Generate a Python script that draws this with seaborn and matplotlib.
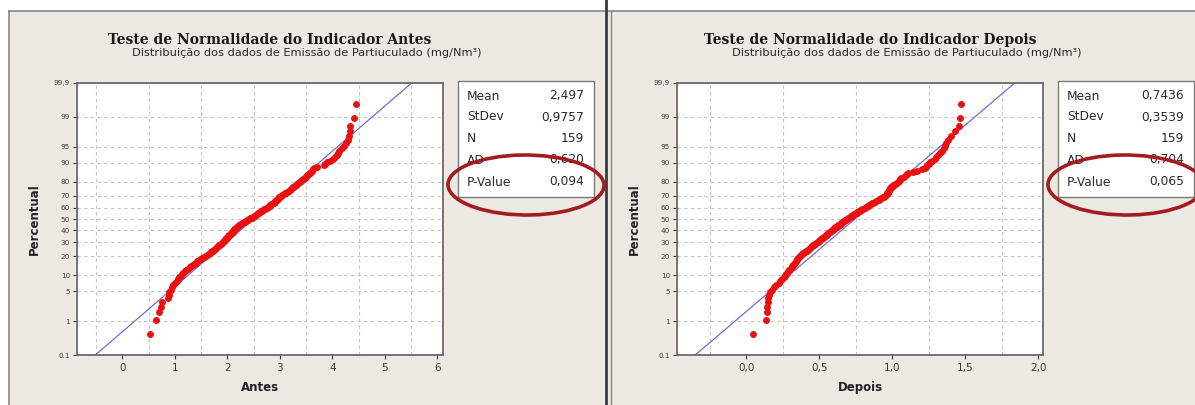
import math
import numpy as np
import pandas as pd
import matplotlib
matplotlib.use("Agg")
import matplotlib.pyplot as plt
from matplotlib.patches import Rectangle, Ellipse
from matplotlib.lines import Line2D
import seaborn as sns

antes = [0.52, 0.64, 0.70, 0.74, 0.76, 0.86, 0.88, 0.89, 0.92, 0.95,
         0.97, 1.00, 1.03, 1.05, 1.08, 1.11, 1.14, 1.16, 1.19, 1.21,
         1.24, 1.28, 1.31, 1.34, 1.37, 1.40, 1.43, 1.46, 1.49, 1.52,
         1.56, 1.60, 1.62, 1.64, 1.66, 1.68, 1.70, 1.72, 1.74, 1.76,
         1.78, 1.80, 1.82, 1.84, 1.86, 1.88, 1.90, 1.92, 1.93, 1.94,
         1.96, 1.97, 1.98, 1.99, 2.01, 2.02, 2.03, 2.04, 2.06, 2.07,
         2.08, 2.10, 2.11, 2.12, 2.13, 2.15, 2.16, 2.18, 2.19, 2.21,
         2.22, 2.24, 2.26, 2.28, 2.31, 2.33, 2.35, 2.37, 2.40, 2.42,
         2.44, 2.46, 2.48, 2.50, 2.52, 2.54, 2.56, 2.58, 2.60, 2.62,
         2.64, 2.66, 2.68, 2.70, 2.72, 2.75, 2.77, 2.79, 2.81, 2.82,
         2.84, 2.86, 2.88, 2.90, 2.91, 2.93, 2.94, 2.96, 2.97, 2.99,
         3.00, 3.02, 3.04, 3.07, 3.09, 3.12, 3.14, 3.17, 3.19, 3.22,
         3.23, 3.25, 3.26, 3.28, 3.30, 3.33, 3.35, 3.38, 3.40, 3.43,
         3.45, 3.48, 3.50, 3.52, 3.55, 3.57, 3.59, 3.62, 3.64, 3.66,
         3.70, 3.84, 3.87, 3.90, 3.95, 4.01, 4.05, 4.08, 4.10, 4.13,
         4.18, 4.22, 4.26, 4.30, 4.32, 4.33, 4.34, 4.41, 4.45]

depois = [0.045, 0.135, 0.138, 0.140, 0.145, 0.150, 0.158, 0.165, 0.175, 0.190,
          0.205, 0.220, 0.232, 0.245, 0.255, 0.265, 0.272, 0.280, 0.288, 0.295,
          0.300, 0.310, 0.315, 0.320, 0.328, 0.335, 0.340, 0.345, 0.350, 0.355,
          0.362, 0.370, 0.375, 0.380, 0.390, 0.400, 0.410, 0.418, 0.422, 0.430,
          0.435, 0.440, 0.448, 0.455, 0.462, 0.470, 0.478, 0.490, 0.495, 0.500,
          0.505, 0.510, 0.520, 0.525, 0.530, 0.540, 0.545, 0.550, 0.555, 0.560,
          0.570, 0.575, 0.580, 0.590, 0.595, 0.600, 0.605, 0.610, 0.620, 0.625,
          0.630, 0.640, 0.645, 0.650, 0.655, 0.660, 0.670, 0.675, 0.680, 0.690,
          0.695, 0.700, 0.710, 0.715, 0.720, 0.730, 0.740, 0.750, 0.755, 0.760,
          0.770, 0.780, 0.785, 0.790, 0.800, 0.810, 0.820, 0.830, 0.835, 0.840,
          0.850, 0.860, 0.870, 0.880, 0.890, 0.900, 0.910, 0.915, 0.925, 0.935,
          0.940, 0.950, 0.955, 0.960, 0.965, 0.970, 0.972, 0.975, 0.978, 0.980,
          0.985, 0.990, 0.995, 1.000, 1.010, 1.020, 1.030, 1.040, 1.045, 1.050,
          1.055, 1.060, 1.080, 1.090, 1.100, 1.110, 1.140, 1.170, 1.200, 1.220,
          1.230, 1.240, 1.250, 1.260, 1.270, 1.290, 1.300, 1.310, 1.325, 1.340,
          1.350, 1.360, 1.370, 1.380, 1.400, 1.430, 1.455, 1.460, 1.470]

antes_mean = 2.497
antes_sd = 0.9757
depois_mean = 0.7436
depois_sd = 0.3539

stat_names = ["Mean", "StDev", "N", "AD", "P-Value"]
antes_stats = ["2,497", "0,9757", "159", "0,620", "0,094"]
depois_stats = ["0,7436", "0,3539", "159", "0,704", "0,065"]

pct_ticks = [0.1, 1, 5, 10, 20, 30, 40, 50, 60, 70, 80, 90, 95, 99, 99.9]
pct_labels = ["0.1", "1", "5", "10", "20", "30", "40", "50", "60", "70",
              "80", "90", "95", "99", "99,9"]
antes_xticks = [0, 1, 2, 3, 4, 5, 6]
antes_xlabels = ["0", "1", "2", "3", "4", "5", "6"]
depois_xticks = [0.0, 0.5, 1.0, 1.5, 2.0]
depois_xlabels = ["0,0", "0,5", "1,0", "1,5", "2,0"]

titles = ["Teste de Normalidade do Indicador Antes",
          "Teste de Normalidade do Indicador Depois"]
subtitle = "Distribuição dos dados de Emissão de Partiuculado (mg/Nm³)"
xlabels = ["Antes", "Depois"]


# ---------------- normal probability scale ----------------
def norm_ppf(p):
    p = np.clip(np.asarray(p, dtype=float), 1e-9, 1 - 1e-9)
    a = [-3.969683028665376e+01, 2.209460984245205e+02, -2.759285104469687e+02,
         1.383577518672690e+02, -3.066479806614716e+01, 2.506628277459239e+00]
    b = [-5.447609879822406e+01, 1.615858368580409e+02, -1.556989798598866e+02,
         6.680131188771720e+01, -1.328068155288572e+01]
    c = [-7.784894002430293e-03, -3.223964580411365e-01, -2.400758277161838e+00,
         -2.549732539343734e+00, 4.374664141464968e+00, 2.938163982698783e+00]
    d = [7.784695709041462e-03, 3.224671290700398e-01, 2.445134137142996e+00,
         3.754408661907416e+00]
    plow = 0.02425
    ql = np.sqrt(-2 * np.log(p))
    xl = (((((c[0]*ql+c[1])*ql+c[2])*ql+c[3])*ql+c[4])*ql+c[5]) / \
         ((((d[0]*ql+d[1])*ql+d[2])*ql+d[3])*ql+1)
    qu = np.sqrt(-2 * np.log(1 - p))
    xu = -(((((c[0]*qu+c[1])*qu+c[2])*qu+c[3])*qu+c[4])*qu+c[5]) / \
         ((((d[0]*qu+d[1])*qu+d[2])*qu+d[3])*qu+1)
    q = p - 0.5
    r = q * q
    xc = (((((a[0]*r+a[1])*r+a[2])*r+a[3])*r+a[4])*r+a[5])*q / \
         (((((b[0]*r+b[1])*r+b[2])*r+b[3])*r+b[4])*r+1)
    return np.where(p < plow, xl, np.where(p > 1 - plow, xu, xc))


_erf = np.vectorize(math.erf)


def pct_forward(y):
    return norm_ppf(np.asarray(y, dtype=float) / 100.0)


def pct_inverse(z):
    z = np.asarray(z, dtype=float)
    return 50.0 * (1.0 + _erf(z / math.sqrt(2.0)))


# ---------------- figure ----------------
W, H = 1195, 405
fig = plt.figure(figsize=(W / 100, H / 100), dpi=100, facecolor="white")


def fx(px):
    return px / W


def fy(py):
    return 1 - py / H


bg = "#ECE9E2"
frame = "#8a8a8a"
fig.add_artist(Rectangle((fx(9), fy(410)), fx(606 - 9), (410 - 11) / H,
                         transform=fig.transFigure, facecolor=bg,
                         edgecolor="none", zorder=-10))
fig.add_artist(Rectangle((fx(606), fy(410)), fx(1200 - 606), (410 - 11) / H,
                         transform=fig.transFigure, facecolor=bg,
                         edgecolor="none", zorder=-10))
fig.add_artist(Line2D([fx(9), fx(1195)], [fy(11), fy(11)], transform=fig.transFigure,
                      color=frame, lw=1.2, zorder=-5))
fig.add_artist(Line2D([fx(9), fx(9)], [fy(11), fy(405)], transform=fig.transFigure,
                      color=frame, lw=1.2, zorder=-5))
fig.add_artist(Line2D([fx(611), fx(611)], [fy(11), fy(405)], transform=fig.transFigure,
                      color=frame, lw=1.0, zorder=-5))
fig.add_artist(Line2D([fx(606), fx(606)], [0, 1], transform=fig.transFigure,
                      color="#3a3a3a", lw=2.0, zorder=-4))

panels = [
    dict(data=antes, mean=antes_mean, sd=antes_sd, stats=antes_stats,
         xticks=antes_xticks, xlabels=antes_xlabels, xstep=0.5,
         xlim=(-0.867, 6.11), offset=0),
    dict(data=depois, mean=depois_mean, sd=depois_sd, stats=depois_stats,
         xticks=depois_xticks, xlabels=depois_xlabels, xstep=0.25,
         xlim=(-0.475, 2.031), offset=600),
]

ax_left, ax_right, ax_top, ax_bot = 77, 443, 83, 355

for k, pn in enumerate(panels):
    off = pn["offset"]
    ax = fig.add_axes([fx(ax_left + off), fy(ax_bot), (ax_right - ax_left) / W,
                       (ax_bot - ax_top) / H])
    ax.set_facecolor("white")
    ax.set_yscale("function", functions=(pct_forward, pct_inverse))

    vals = np.sort(np.asarray(pn["data"], dtype=float))
    n = len(vals)
    ranks = np.arange(1, n + 1)
    pos = (ranks - 0.3) / (n + 0.4) * 100.0
    df = pd.DataFrame({"x": vals, "pct": pos})

    line_pct = np.array([0.1, 99.9])
    line_x = pn["mean"] + pn["sd"] * pct_forward(line_pct)
    fit = pd.DataFrame({"x": line_x, "pct": line_pct})
    sns.lineplot(data=fit, x="x", y="pct", ax=ax, color="#6f6fd6", lw=0.9,
                 sort=False, estimator=None, zorder=2)
    sns.scatterplot(data=df, x="x", y="pct", ax=ax, color="#EA1010", s=25,
                    linewidth=0, zorder=3)

    ax.set_xlim(*pn["xlim"])
    ax.set_ylim(0.1, 99.9)
    ax.set_yticks(pct_ticks, labels=pct_labels)
    ax.yaxis.set_minor_locator(matplotlib.ticker.NullLocator())
    ax.set_xticks(pn["xticks"], labels=pn["xlabels"])
    xmin_g = math.ceil(pn["xlim"][0] / pn["xstep"]) * pn["xstep"]
    grid_x = np.arange(xmin_g, pn["xlim"][1], pn["xstep"])
    ax.xaxis.set_minor_locator(matplotlib.ticker.FixedLocator(grid_x))

    ax.grid(True, which="major", axis="y", color="#c4c4c4", lw=0.8,
            linestyle=(0, (3, 3)))
    ax.grid(True, which="minor", axis="x", color="#c4c4c4", lw=0.8,
            linestyle=(0, (3, 3)))
    ax.set_axisbelow(True)

    ax.tick_params(axis="y", which="major", labelsize=5.2, colors="#3a3a3a",
                   length=3, width=0.8, pad=2)
    ax.tick_params(axis="x", which="major", labelsize=7.5, colors="#3a3a3a",
                   length=3, width=0.8, pad=3)
    ax.tick_params(axis="x", which="minor", length=0)
    for sp in ax.spines.values():
        sp.set_color("#6a6a6a")
        sp.set_linewidth(1.3)

    ax.set_xlabel(xlabels[k], fontsize=8.5, fontweight="bold", color="#222222")
    ax.xaxis.set_label_coords(0.5, -(381 - ax_bot) / (ax_bot - ax_top))
    ax.set_ylabel("Percentual", fontsize=8.5, fontweight="bold", color="#222222")
    ax.yaxis.set_label_coords(-(ax_left - 41) / (ax_right - ax_left), 0.5)

    fig.text(fx(270 + off), fy(40), titles[k], ha="center", va="center",
             fontsize=10, fontweight="bold", family="DejaVu Serif", color="#1a1a1a")
    fig.text(fx(307 + off), fy(53), subtitle, ha="center", va="center",
             fontsize=8.2, color="#2a2a2a")

    bx0, bx1, by0, by1 = 458 + off, 594 + off, 81, 197
    fig.add_artist(Rectangle((fx(bx0), fy(by1)), (bx1 - bx0) / W, (by1 - by0) / H,
                             transform=fig.transFigure, facecolor="white",
                             edgecolor="#7a7a7a", lw=1.0, zorder=1))
    rows_y = [96, 117, 139, 160, 182]
    for name, val, ry in zip(stat_names, pn["stats"], rows_y):
        fig.text(fx(467 + off), fy(ry), name, ha="left", va="center",
                 fontsize=8.8, color="#2a2a2a", zorder=3)
        fig.text(fx(584 + off), fy(ry), val, ha="right", va="center",
                 fontsize=8.8, color="#2a2a2a", zorder=3)

    fig.add_artist(Ellipse((fx(526 + off), fy(185)), 156 / W, 60 / H, angle=3,
                           transform=fig.transFigure, facecolor="none",
                           edgecolor="#A31C20", lw=2.6, zorder=5))

fig.savefig("out.png", dpi=100, facecolor="white")
